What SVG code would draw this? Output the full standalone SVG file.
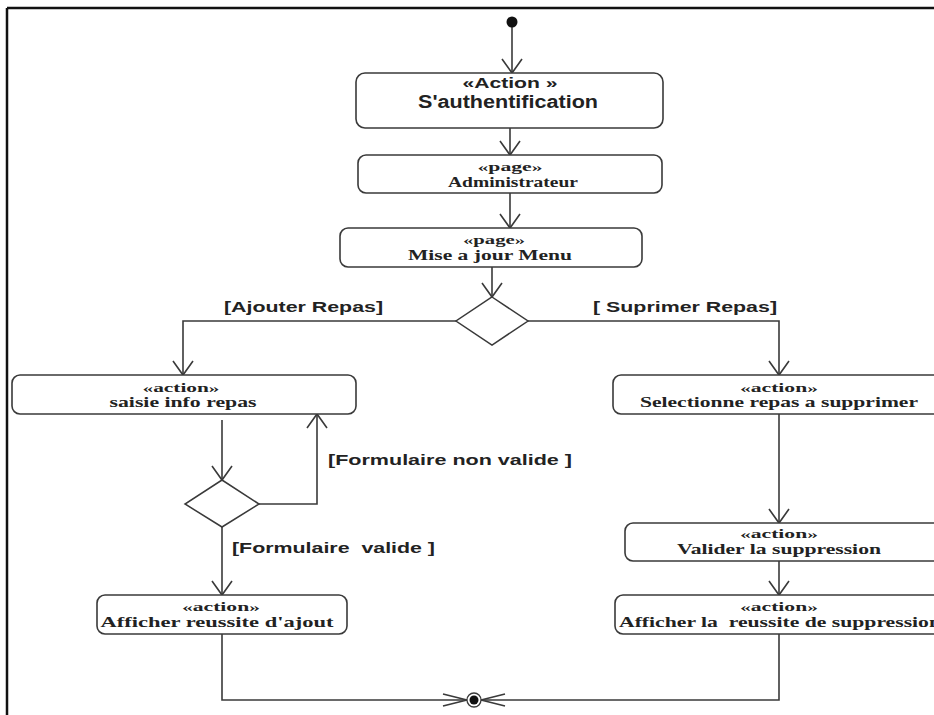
<svg xmlns="http://www.w3.org/2000/svg" width="934" height="715" viewBox="0 0 934 715">
<style>
.box{fill:#fff;stroke:#3a3a3a;stroke-width:1.6}
.dia{fill:#fff;stroke:#3a3a3a;stroke-width:1.5}
.ln{fill:none;stroke:#3a3a3a;stroke-width:1.6}
.sans{font-family:"Liberation Sans",Arial,sans-serif;font-weight:bold;fill:#222;text-anchor:middle}
.serif{font-family:"Liberation Serif","Times New Roman",serif;font-weight:bold;fill:#222;text-anchor:middle;white-space:pre}
.lbl{font-family:"Liberation Sans",Arial,sans-serif;font-weight:bold;fill:#222;font-size:15px;white-space:pre}
</style>
<defs>
<marker id="arr" viewBox="0 -11 16 22" refX="15" refY="0" markerWidth="16" markerHeight="22" markerUnits="userSpaceOnUse" orient="auto" overflow="visible">
<path d="M1,-10 L15,0 L1,10" fill="none" stroke="#3a3a3a" stroke-width="1.6"/>
</marker>
<marker id="arr2" viewBox="0 -8 26 16" refX="25" refY="0" markerWidth="26" markerHeight="16" markerUnits="userSpaceOnUse" orient="auto" overflow="visible">
<path d="M1,-6 L25,0 L1,6" fill="none" stroke="#3a3a3a" stroke-width="1.6"/>
</marker>
</defs>
<rect width="934" height="715" fill="#fff"/>
<g id="frame">
<line x1="7" y1="8" x2="934" y2="8" stroke="#111" stroke-width="2.5"/>
<line x1="7" y1="8" x2="7" y2="715" stroke="#111" stroke-width="2.5"/>
</g>
<g id="connectors">
<line class="ln" x1="512" y1="22" x2="512" y2="73" marker-end="url(#arr)"/>
<line class="ln" x1="510" y1="128" x2="510" y2="155" marker-end="url(#arr)"/>
<line class="ln" x1="510" y1="193" x2="510" y2="228" marker-end="url(#arr)"/>
<line class="ln" x1="492" y1="267" x2="492" y2="297" marker-end="url(#arr)"/>
<path class="ln" d="M456,321 H183 V375" marker-end="url(#arr)"/>
<path class="ln" d="M528,321 H779 V375" marker-end="url(#arr)"/>
<line class="ln" x1="222" y1="420" x2="222" y2="480" marker-end="url(#arr)"/>
<path class="ln" d="M259,504 H317 V414" marker-end="url(#arr)"/>
<line class="ln" x1="222" y1="527" x2="222" y2="595" marker-end="url(#arr)"/>
<line class="ln" x1="779" y1="414" x2="779" y2="523" marker-end="url(#arr)"/>
<line class="ln" x1="779" y1="561" x2="779" y2="595" marker-end="url(#arr)"/>
<path class="ln" d="M222,634 V700 H467" marker-end="url(#arr2)"/>
<path class="ln" d="M779,634 V700 H481" marker-end="url(#arr2)"/>
<text class="lbl" x="224" y="312" textLength="159" lengthAdjust="spacingAndGlyphs">[Ajouter Repas]</text>
<text class="lbl" x="593" y="312" textLength="184" lengthAdjust="spacingAndGlyphs">[ Suprimer Repas]</text>
<text class="lbl" x="328" y="465" textLength="244" lengthAdjust="spacingAndGlyphs">[Formulaire non valide ]</text>
<text class="lbl" x="232" y="553" textLength="203" lengthAdjust="spacingAndGlyphs">[Formulaire  valide ]</text>
</g>
<g id="initial">
<circle cx="512" cy="22" r="5.5" fill="#111"/>
</g>
<g id="authentification">
<rect class="box" x="356" y="73" width="307" height="55" rx="9"/>
<text class="sans" x="510" y="88" font-size="15" textLength="95" lengthAdjust="spacingAndGlyphs">«Action »</text>
<text class="sans" x="508" y="108" font-size="18" textLength="180" lengthAdjust="spacingAndGlyphs">S'authentification</text>
</g>
<g id="administrateur">
<rect class="box" x="358" y="155" width="304" height="38" rx="8"/>
<text class="serif" x="510" y="171" font-size="13" textLength="65" lengthAdjust="spacingAndGlyphs">«page»</text>
<text class="serif" x="513" y="187" font-size="15" textLength="130" lengthAdjust="spacingAndGlyphs">Administrateur</text>
</g>
<g id="miseajour">
<rect class="box" x="340" y="228" width="302" height="39" rx="8"/>
<text class="serif" x="494" y="244" font-size="13" textLength="62" lengthAdjust="spacingAndGlyphs">«page»</text>
<text class="serif" x="490" y="260" font-size="15" textLength="164" lengthAdjust="spacingAndGlyphs">Mise a jour Menu</text>
</g>
<g id="decision1">
<polygon class="dia" points="492,297 528,321 492,345 456,321"/>
</g>
<g id="saisie">
<rect class="box" x="12" y="375" width="344" height="39" rx="8"/>
<text class="serif" x="181" y="392" font-size="13" textLength="77" lengthAdjust="spacingAndGlyphs">«action»</text>
<text class="serif" x="183" y="407" font-size="15" textLength="147" lengthAdjust="spacingAndGlyphs">saisie info repas</text>
</g>
<g id="selectionne">
<rect class="box" x="613" y="375" width="332" height="39" rx="8"/>
<text class="serif" x="779" y="392" font-size="13" textLength="78" lengthAdjust="spacingAndGlyphs">«action»</text>
<text class="serif" x="779" y="407" font-size="15" textLength="278" lengthAdjust="spacingAndGlyphs">Selectionne repas a supprimer</text>
</g>
<g id="decision2">
<polygon class="dia" points="222,480 259,504 222,527 185,504"/>
</g>
<g id="afficher_ajout">
<rect class="box" x="97" y="595" width="250" height="39" rx="8"/>
<text class="serif" x="221" y="611" font-size="13" textLength="78" lengthAdjust="spacingAndGlyphs">«action»</text>
<text class="serif" x="217" y="627" font-size="15" textLength="233" lengthAdjust="spacingAndGlyphs">Afficher reussite d'ajout</text>
</g>
<g id="valider">
<rect class="box" x="625" y="523" width="318" height="38" rx="8"/>
<text class="serif" x="779" y="538" font-size="13" textLength="78" lengthAdjust="spacingAndGlyphs">«action»</text>
<text class="serif" x="779" y="554" font-size="15" textLength="204" lengthAdjust="spacingAndGlyphs">Valider la suppression</text>
</g>
<g id="afficher_suppression">
<rect class="box" x="615" y="595" width="330" height="39" rx="8"/>
<text class="serif" x="779" y="611" font-size="13" textLength="78" lengthAdjust="spacingAndGlyphs">«action»</text>
<text class="serif" x="780" y="627" font-size="15" textLength="322" lengthAdjust="spacingAndGlyphs">Afficher la  reussite de suppression</text>
</g>
<g id="final">
<circle cx="474" cy="700" r="7" fill="#fff" stroke="#3a3a3a" stroke-width="1.3"/>
<circle cx="474" cy="700" r="4.5" fill="#111"/>
</g>
</svg>
